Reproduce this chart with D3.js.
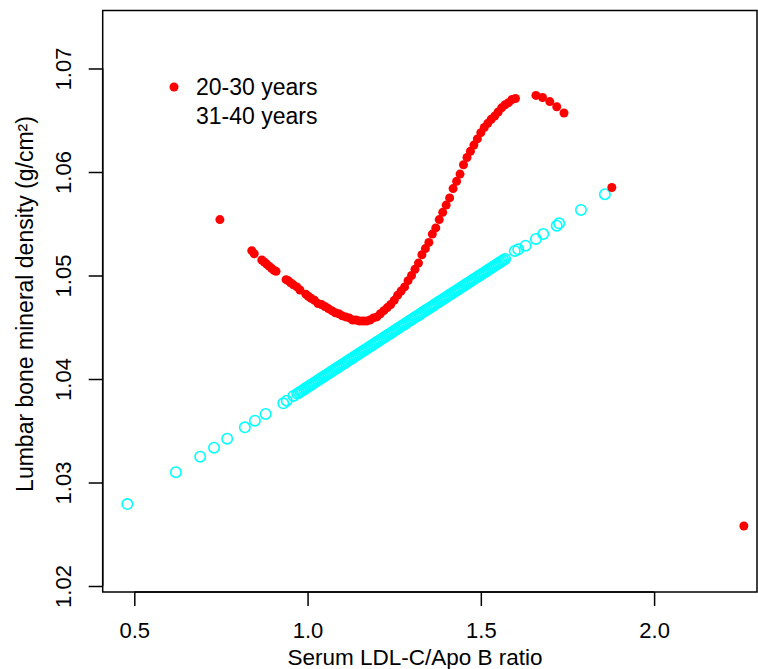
<!DOCTYPE html>
<html>
<head>
<meta charset="utf-8">
<script src="https://cdn.jsdelivr.net/npm/d3@7"></script>
<style>
  body { margin: 0; background: #fff; }
  svg { display: block; font-family: "Liberation Sans", Arial, Helvetica, sans-serif; }
</style>
</head>
<body>
<svg id="chart" width="758" height="669"></svg>
<script>
// ---- data ----
const seriesNames = ["20-30 years", "31-40 years"];

const redX = [0.747, 0.839, 0.846, 0.868, 0.875, 0.882, 0.889, 0.896, 0.903, 0.909,
  0.938, 0.944, 0.951, 0.959, 0.969, 0.978, 0.995, 1.002,
  1.01, 1.02, 1.03, 1.04, 1.05, 1.06, 1.07, 1.08, 1.09, 1.10,
  1.11, 1.12, 1.13, 1.14, 1.15, 1.16, 1.17, 1.18, 1.19, 1.20,
  1.21, 1.22, 1.23, 1.24, 1.25, 1.26, 1.27, 1.28, 1.29, 1.30,
  1.31, 1.32, 1.33, 1.34, 1.35, 1.36, 1.37, 1.38, 1.39, 1.40,
  1.41, 1.42, 1.43, 1.44, 1.45, 1.46, 1.47, 1.48, 1.49, 1.50,
  1.51, 1.52, 1.53, 1.54, 1.55, 1.56, 1.57, 1.58, 1.59, 1.60,
  1.659, 1.678, 1.699, 1.719, 1.740, 1.878, 2.259];
const redY = [1.0554, 1.0524, 1.0521, 1.0515, 1.0513, 1.0511, 1.0509, 1.0507, 1.0505, 1.0504,
  1.0496, 1.0495, 1.0493, 1.0491, 1.0489, 1.0486, 1.0482, 1.0480,
  1.0478, 1.0476, 1.0473, 1.0472, 1.0470, 1.0468, 1.0466, 1.0464, 1.0463, 1.0461,
  1.0460, 1.0459, 1.0457, 1.0457, 1.0456, 1.0456, 1.0456, 1.0457, 1.0459, 1.0460,
  1.0463, 1.0466, 1.0469, 1.0472, 1.0476, 1.0481, 1.0485, 1.0489, 1.0495, 1.0500,
  1.0506, 1.0512, 1.0520, 1.0526, 1.0532, 1.0540, 1.0546, 1.0554, 1.0561, 1.0568,
  1.0575, 1.0584, 1.0591, 1.0598, 1.0607, 1.0614, 1.0620, 1.0626, 1.0632, 1.0638,
  1.0643, 1.0647, 1.0651, 1.0654, 1.0658, 1.0662, 1.0665, 1.0667, 1.0670, 1.0671,
  1.0674, 1.0672, 1.0668, 1.0663, 1.0657, 1.0585, 1.0258];

const cyanX = [0.480, 0.620, 0.690, 0.730, 0.768, 0.819, 0.848, 0.879, 0.930, 0.940, 0.959,
  0.970, 0.975, 0.980, 0.985, 0.990, 0.995, 1.000, 1.005, 1.010, 1.015,
  1.020, 1.025, 1.030, 1.035, 1.040, 1.045, 1.050, 1.055, 1.060, 1.065,
  1.070, 1.075, 1.080, 1.085, 1.090, 1.095, 1.100, 1.105, 1.110, 1.115,
  1.120, 1.125, 1.130, 1.135, 1.140, 1.145, 1.150, 1.155, 1.160, 1.165,
  1.170, 1.175, 1.180, 1.185, 1.190, 1.195, 1.200, 1.205, 1.210, 1.215,
  1.220, 1.225, 1.230, 1.235, 1.240, 1.245, 1.250, 1.255, 1.260, 1.265,
  1.270, 1.275, 1.280, 1.285, 1.290, 1.295, 1.300, 1.305, 1.310, 1.315,
  1.320, 1.325, 1.330, 1.335, 1.340, 1.345, 1.350, 1.355, 1.360, 1.365,
  1.370, 1.375, 1.380, 1.385, 1.390, 1.395, 1.400, 1.405, 1.410, 1.415,
  1.420, 1.425, 1.430, 1.435, 1.440, 1.445, 1.450, 1.455, 1.460, 1.465,
  1.470, 1.475, 1.480, 1.485, 1.490, 1.495, 1.500, 1.505, 1.510, 1.515,
  1.520, 1.525, 1.530, 1.535, 1.540, 1.545, 1.550, 1.555, 1.560, 1.565, 1.570,
  1.598, 1.608, 1.629, 1.659, 1.680, 1.719, 1.726, 1.789, 1.858];
const cyanY = [1.02792, 1.03099, 1.03249, 1.03336, 1.03423, 1.03533, 1.03597, 1.03662, 1.03765, 1.03790, 1.03836,
  1.03857, 1.03868, 1.03879, 1.03890, 1.03900, 1.03911, 1.03922, 1.03933, 1.03944, 1.03955,
  1.03966, 1.03977, 1.03987, 1.03998, 1.04009, 1.04020, 1.04031, 1.04042, 1.04052, 1.04063,
  1.04074, 1.04085, 1.04096, 1.04107, 1.04118, 1.04129, 1.04139, 1.04150, 1.04161, 1.04172,
  1.04183, 1.04194, 1.04204, 1.04215, 1.04226, 1.04237, 1.04248, 1.04259, 1.04270, 1.04281,
  1.04291, 1.04302, 1.04313, 1.04324, 1.04335, 1.04346, 1.04357, 1.04367, 1.04378, 1.04389,
  1.04400, 1.04411, 1.04422, 1.04433, 1.04443, 1.04454, 1.04465, 1.04476, 1.04487, 1.04498,
  1.04509, 1.04519, 1.04530, 1.04541, 1.04552, 1.04563, 1.04574, 1.04585, 1.04596, 1.04606,
  1.04617, 1.04628, 1.04639, 1.04650, 1.04661, 1.04672, 1.04682, 1.04693, 1.04704, 1.04715,
  1.04726, 1.04737, 1.04748, 1.04758, 1.04769, 1.04780, 1.04791, 1.04802, 1.04813, 1.04823,
  1.04834, 1.04845, 1.04856, 1.04867, 1.04878, 1.04889, 1.04899, 1.04910, 1.04921, 1.04932,
  1.04943, 1.04954, 1.04965, 1.04975, 1.04986, 1.04997, 1.05008, 1.05019, 1.05030, 1.05041,
  1.05051, 1.05062, 1.05073, 1.05084, 1.05095, 1.05106, 1.05117, 1.05127, 1.05138, 1.05149, 1.05160,
  1.05237, 1.05253, 1.05288, 1.05353, 1.05401, 1.05481, 1.05504, 1.05633, 1.05785];

const xTicks = [0.5, 1.0, 1.5, 2.0];
const yTicks = [1.02, 1.03, 1.04, 1.05, 1.06, 1.07];
const xTitle = "Serum LDL-C/Apo B ratio";
const yTitle = "Lumbar bone mineral density (g/cm\u00B2)";

// ---- layout ----
const svg = d3.select("#chart");
const box = { left: 102.7, right: 757, top: 10.5, bottom: 592 };
const FONT = "Liberation Sans, Arial, sans-serif";

const x = d3.scaleLinear().domain([0.5, 2.0]).range([134.3, 654.1]);
const y = d3.scaleLinear().domain([1.02, 1.07]).range([586, 68.5]);

// box
svg.append("rect")
  .attr("x", box.left).attr("y", box.top)
  .attr("width", box.right - box.left).attr("height", box.bottom - box.top)
  .attr("fill", "none").attr("stroke", "#000").attr("stroke-width", 1.5);

// x axis
const xAxis = d3.axisBottom(x).tickValues(xTicks).tickFormat(d3.format(".1f")).tickSize(14).tickSizeOuter(0);
const gx = svg.append("g").attr("transform", `translate(0,${box.bottom})`).call(xAxis);
gx.select(".domain").attr("d", `M${x(0.5)},0H${x(2.0)}`).attr("stroke-width", 1.5);
gx.selectAll(".tick line").attr("stroke-width", 1.5);
gx.selectAll(".tick text").attr("y", 46).attr("dy", null)
  .attr("font-size", 22).attr("font-family", FONT).attr("fill", "#000");

// y axis
const yAxis = d3.axisLeft(y).tickValues(yTicks).tickFormat(d3.format(".2f")).tickSize(14).tickSizeOuter(0);
const gy = svg.append("g").attr("transform", `translate(${box.left},0)`).call(yAxis);
gy.select(".domain").attr("d", `M0,${y(1.02)}V${y(1.07)}`).attr("stroke-width", 1.5);
gy.selectAll(".tick line").attr("stroke-width", 1.5);
gy.selectAll(".tick text")
  .attr("x", null).attr("dy", null)
  .attr("transform", "translate(-32,0) rotate(-90)")
  .attr("text-anchor", "middle")
  .attr("font-size", 22).attr("font-family", FONT).attr("fill", "#000");

// titles
svg.append("text").attr("x", 415).attr("y", 665).attr("text-anchor", "middle")
  .attr("font-size", 22.5).text(xTitle);
svg.append("text").attr("transform", "translate(33,304) rotate(-90)").attr("text-anchor", "middle")
  .attr("font-size", 23).text(yTitle);

// points
const pts = svg.append("g");
pts.selectAll("circle.cy").data(d3.range(cyanX.length)).join("circle")
  .attr("class", "cy")
  .attr("cx", i => x(cyanX[i])).attr("cy", i => y(cyanY[i]))
  .attr("r", 5.2).attr("fill", "none").attr("stroke", "#00FFFF").attr("stroke-width", 1.6);
pts.selectAll("circle.rd").data(d3.range(redX.length)).join("circle")
  .attr("class", "rd")
  .attr("cx", i => x(redX[i])).attr("cy", i => y(redY[i]))
  .attr("r", 4.5).attr("fill", "#FF0000");

// legend
const leg = svg.append("g");
leg.append("circle").attr("cx", 174).attr("cy", 87).attr("r", 4.5).attr("fill", "#FF0000");
leg.append("text").attr("x", 196).attr("y", 95).attr("font-size", 23).text(seriesNames[0]);
leg.append("text").attr("x", 196).attr("y", 124).attr("font-size", 23).text(seriesNames[1]);
</script>
</body>
</html>
